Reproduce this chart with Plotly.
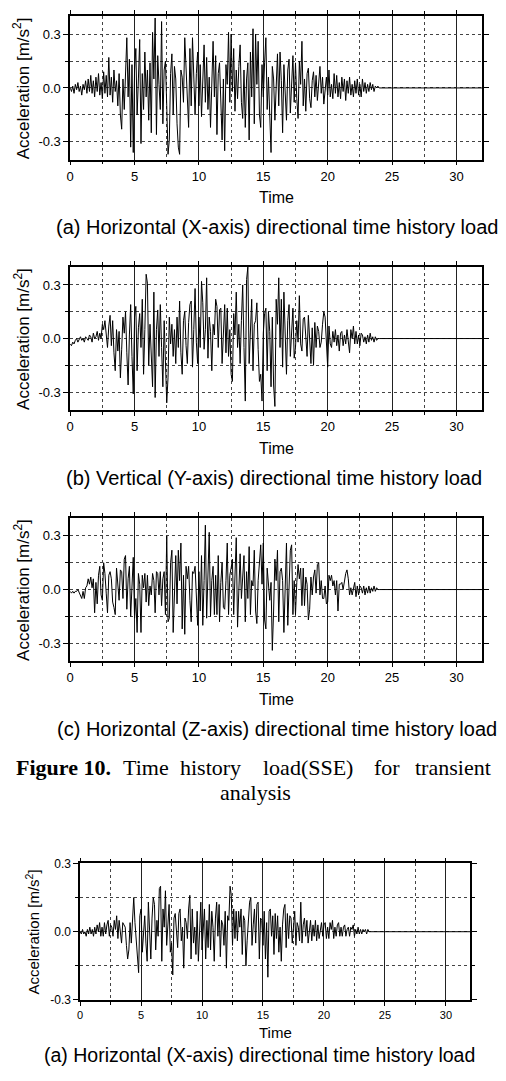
import plotly.graph_objects as go

# ---------------- data ----------------
DT = 0.1                      # sample step of the records [s]
END_TIME = 32.0               # records are zero after 24 s up to the end of the axis

ACC_X_SSE = [
    0.00, -0.02, 0.01, -0.03, 0.02, -0.01, 0.03, -0.02, 0.01, -0.04,
    0.02, -0.01, 0.04, -0.03, 0.05, -0.02, 0.07, -0.03, 0.04, -0.05,
    0.06, -0.02, 0.08, -0.04, 0.03, -0.06, 0.09, -0.03, 0.07, -0.05,
    0.17, -0.04, 0.06, -0.08, 0.10, -0.02, 0.04, -0.10, 0.08, -0.15,
    -0.23, 0.05, -0.12, 0.12, 0.28, -0.05, 0.16, -0.33, 0.13, -0.36,
    0.10, 0.22, -0.15, 0.05, 0.27, -0.31, 0.08, -0.12, 0.20, -0.05,
    0.10, -0.18, 0.14, -0.25, 0.31, 0.05, 0.39, -0.26, 0.18, 0.02,
    -0.12, 0.37, -0.20, 0.10, 0.15, -0.10, -0.37, -0.29, 0.08, 0.19,
    -0.15, 0.12, 0.05, -0.20, -0.33, -0.37, 0.10, 0.06, -0.08, 0.28,
    0.12, -0.05, -0.22, 0.22, -0.10, 0.28, 0.03, -0.15, 0.08, 0.20,
    -0.10, 0.13, -0.16, 0.05, 0.24, -0.08, 0.17, -0.12, 0.06, -0.22,
    0.10, 0.26, -0.05, 0.18, -0.26, 0.08, 0.14, -0.10, -0.29, 0.05,
    -0.35, 0.13, 0.02, 0.31, -0.08, 0.30, -0.02, 0.22, -0.13, 0.10,
    -0.06, 0.12, 0.24, -0.08, -0.17, 0.10, -0.22, 0.05, 0.14, -0.29,
    0.20, -0.05, 0.33, -0.20, 0.30, 0.02, 0.26, -0.15, -0.22, 0.13,
    -0.05, 0.14, 0.28, -0.12, 0.06, -0.15, -0.36, 0.12, 0.05, -0.18,
    0.08, 0.19, -0.10, 0.20, 0.04, -0.25, 0.13, -0.05, -0.18, 0.10,
    0.16, -0.14, 0.06, 0.18, -0.08, 0.14, -0.06, -0.17, 0.15, 0.02,
    0.26, -0.10, 0.05, -0.13, 0.08, 0.11, -0.06, -0.11, 0.04, 0.09,
    -0.05, 0.07, -0.07, 0.02, 0.12, -0.03, 0.06, -0.09, 0.01, 0.06,
    -0.04, 0.10, -0.05, 0.02, -0.06, 0.08, -0.03, 0.07, -0.05, 0.03,
    -0.06, 0.06, -0.02, 0.05, -0.07, 0.04, -0.03, 0.06, -0.04, 0.02,
    -0.05, 0.04, -0.03, 0.05, -0.04, 0.02, -0.05, 0.05, -0.02, 0.03,
    -0.03, 0.02, -0.02, 0.03, -0.01, 0.02, -0.02, 0.01, 0.00, 0.01,
    0.00,
]

ACC_Y_SSE = [
    -0.03, -0.04, -0.02, -0.03, -0.01, 0.00, -0.02, 0.00, 0.01, -0.01,
    0.00, -0.02, 0.01, 0.00, -0.01, 0.02, 0.01, -0.02, 0.03, 0.00,
    0.01, 0.04, -0.01, 0.03, 0.00, 0.08, 0.05, 0.10, 0.02, -0.05,
    0.07, 0.13, -0.04, 0.10, -0.08, -0.18, 0.05, -0.07, 0.04, -0.22,
    -0.06, 0.12, 0.03, 0.15, -0.08, -0.26, 0.02, 0.19, -0.10, -0.31,
    0.12, 0.18, -0.18, 0.06, 0.14, -0.05, 0.22, -0.20, 0.05, 0.36,
    0.31, -0.15, 0.08, -0.12, -0.27, 0.26, -0.33, 0.05, 0.16, -0.10,
    0.19, -0.05, -0.27, 0.10, -0.08, -0.36, -0.22, 0.12, -0.03, 0.08,
    -0.10, 0.05, -0.14, 0.12, -0.05, 0.21, -0.08, -0.20, 0.10, 0.15,
    -0.04, -0.14, 0.09, 0.19, 0.21, -0.16, 0.05, 0.28, -0.02, -0.14,
    0.12, -0.05, 0.32, 0.20, -0.06, 0.05, 0.34, -0.11, 0.12, 0.04,
    -0.18, 0.08, 0.02, 0.22, 0.18, -0.05, 0.16, 0.17, -0.14, 0.06,
    0.19, -0.08, 0.17, -0.10, 0.05, -0.20, -0.24, 0.14, 0.02, 0.26,
    -0.05, 0.08, -0.14, 0.10, 0.30, -0.05, -0.35, 0.33, 0.40, -0.14,
    0.05, 0.22, -0.18, 0.08, 0.10, 0.20, -0.06, -0.24, -0.20, -0.35,
    0.03, 0.14, 0.17, -0.18, 0.15, 0.04, -0.27, 0.12, -0.26, -0.38,
    0.22, 0.08, 0.34, -0.05, 0.22, -0.16, 0.26, 0.02, -0.20, 0.10,
    0.19, -0.10, 0.05, 0.17, -0.11, -0.05, 0.10, -0.02, 0.24, -0.03,
    -0.07, 0.11, 0.12, -0.03, -0.10, 0.13, -0.02, -0.14, 0.06, -0.15,
    0.09, -0.05, 0.07, 0.04, -0.05, -0.02, 0.08, 0.15, 0.12, -0.03,
    -0.16, 0.07, -0.03, -0.05, 0.04, -0.02, 0.05, -0.04, 0.02, -0.07,
    0.03, 0.04, -0.04, 0.02, -0.03, 0.05, -0.02, -0.08, 0.05, 0.00,
    0.07, -0.03, 0.04, -0.03, 0.02, -0.04, 0.03, 0.02, -0.02, 0.01,
    -0.03, 0.02, -0.02, 0.03, -0.01, 0.01, -0.02, 0.01, -0.01, 0.00,
    0.00,
]

ACC_Z_SSE = [
    -0.01, -0.02, -0.01, -0.02, -0.01, -0.01, 0.00, -0.02, -0.03, -0.05,
    -0.01, -0.05, 0.01, 0.02, 0.06, 0.03, 0.07, 0.01, 0.06, -0.13,
    0.04, -0.08, 0.08, 0.13, -0.03, -0.06, 0.15, 0.09, -0.02, -0.13,
    0.08, 0.10, 0.06, -0.07, -0.10, -0.14, 0.12, 0.00, -0.06, 0.11,
    0.10, -0.05, 0.17, 0.19, -0.11, 0.06, 0.13, -0.15, 0.02, 0.18,
    -0.16, -0.05, -0.24, 0.09, 0.03, -0.24, 0.08, 0.01, 0.09, -0.07,
    0.08, -0.09, 0.02, -0.03, 0.09, 0.05, -0.13, 0.10, 0.09, -0.03,
    0.10, -0.09, 0.06, 0.10, -0.14, 0.30, -0.18, -0.16, 0.15, 0.22,
    -0.24, -0.02, 0.19, -0.08, 0.22, 0.05, 0.26, -0.22, 0.08, -0.25,
    0.13, 0.06, 0.13, -0.06, -0.18, 0.10, 0.09, 0.13, -0.03, -0.20,
    0.10, -0.12, 0.19, -0.20, 0.05, 0.36, -0.16, 0.04, 0.32, -0.15,
    0.05, 0.13, -0.14, 0.08, -0.14, 0.19, -0.18, 0.04, 0.15, -0.10,
    -0.11, 0.05, 0.26, -0.14, 0.08, 0.12, 0.17, -0.14, 0.05, 0.29,
    -0.21, 0.02, 0.20, -0.05, 0.08, 0.19, -0.18, 0.10, -0.05, 0.24,
    -0.14, 0.05, 0.02, 0.22, -0.12, -0.19, 0.05, 0.19, 0.25, 0.03,
    0.26, -0.17, -0.22, 0.12, 0.05, -0.06, 0.04, -0.34, -0.12, 0.17,
    0.05, 0.22, -0.18, 0.10, 0.12, 0.05, -0.24, -0.03, 0.26, -0.20,
    0.08, 0.22, 0.25, -0.14, 0.05, -0.14, 0.04, 0.14, 0.06, 0.12,
    -0.09, 0.12, -0.09, 0.07, 0.03, -0.17, -0.11, 0.07, -0.03, 0.07,
    0.11, -0.02, 0.14, 0.15, -0.03, 0.05, -0.05, -0.05, 0.02, -0.08,
    -0.07, 0.08, 0.05, 0.08, 0.02, 0.05, -0.03, 0.05, -0.12, 0.03,
    0.03, 0.04, 0.00, 0.05, 0.09, 0.11, 0.06, -0.03, 0.01, -0.03,
    0.00, 0.04, -0.04, 0.02, -0.03, 0.02, 0.01, -0.02, 0.02, -0.03,
    0.01, -0.02, 0.02, -0.02, 0.01, -0.01, 0.02, -0.01, 0.01, 0.00,
    0.00,
]

ACC_X_OBE = [
    0.00, -0.01, 0.01, -0.01, 0.00, -0.02, 0.01, -0.01, 0.02, -0.01,
    0.01, -0.02, 0.02, -0.01, 0.03, 0.00, 0.04, -0.02, 0.02, -0.02,
    0.04, -0.01, 0.03, 0.05, -0.02, 0.03, 0.02, -0.02, 0.05, 0.01,
    0.07, -0.03, 0.05, 0.00, -0.05, 0.04, 0.03, 0.02, -0.06, -0.12,
    -0.08, 0.04, -0.05, 0.07, 0.15, 0.04, -0.05, -0.13, -0.18, 0.07,
    0.10, -0.09, 0.02, 0.07, -0.05, -0.13, 0.13, 0.01, -0.12, 0.06,
    0.15, 0.12, -0.08, 0.05, -0.02, 0.19, 0.20, -0.13, 0.10, 0.02,
    0.18, -0.06, 0.03, 0.12, -0.09, -0.05, -0.19, 0.06, 0.08, 0.01,
    -0.07, 0.08, 0.10, -0.04, 0.02, -0.16, 0.06, 0.04, -0.03, 0.10,
    0.16, -0.12, 0.10, -0.05, 0.02, -0.10, 0.09, -0.13, 0.04, 0.13,
    -0.08, 0.03, 0.10, -0.12, 0.05, -0.07, 0.12, -0.08, 0.09, 0.02,
    -0.13, 0.06, 0.13, -0.02, 0.12, -0.11, 0.05, 0.03, -0.06, 0.09,
    -0.16, 0.07, 0.05, 0.20, 0.16, -0.06, 0.10, -0.03, 0.09, -0.04,
    0.09, 0.02, 0.10, -0.10, 0.07, 0.05, -0.15, -0.04, 0.06, 0.13,
    0.15, -0.06, 0.03, 0.10, -0.05, 0.12, 0.13, -0.12, 0.06, 0.05,
    -0.06, 0.09, -0.12, 0.04, -0.20, 0.09, 0.10, -0.02, 0.07, -0.10,
    0.08, -0.03, 0.07, -0.09, 0.02, -0.13, 0.03, 0.10, 0.12, -0.07,
    0.08, -0.03, 0.07, 0.06, -0.05, 0.02, 0.09, -0.06, 0.04, 0.02,
    -0.04, 0.13, -0.05, 0.03, 0.06, -0.02, 0.05, -0.05, 0.02, 0.05,
    -0.04, 0.03, -0.02, 0.05, -0.04, 0.03, -0.03, 0.02, 0.04, -0.02,
    0.03, 0.04, -0.03, 0.02, -0.03, 0.04, 0.01, 0.05, -0.03, 0.02,
    -0.02, 0.03, 0.04, -0.02, 0.02, -0.02, 0.02, 0.03, -0.02, 0.01,
    0.02, -0.02, 0.02, 0.01, 0.03, -0.02, 0.01, -0.01, 0.02, -0.01,
    0.01, -0.01, 0.01, 0.00, 0.01, -0.01, 0.01, 0.00, 0.00, 0.00,
    0.00,
]

X_TICKS = [0, 5, 10, 15, 20, 25, 30]
X_TICK_TEXT = ["0", "5", "10", "15", "20", "25", "30"]
Y_TICKS = [-0.3, 0.0, 0.3]
Y_TICK_TEXT = ["-0.3", "0.0", "0.3"]

CAPTIONS = [
    "(a) Horizontal (X-axis) directional time history load",
    "(b) Vertical (Y-axis) directional time history load",
    "(c) Horizontal (Z-axis) directional time history load",
    "(a) Horizontal (X-axis) directional time history load",
]
FIG_CAPTION_WORDS = ["<b>Figure 10.</b>", "Time", "history", "load(SSE)", "for", "transient"]
FIG_CAPTION_LINE2 = "analysis"
Y_TITLE = "Acceleration [m/s<sup>2</sup>]"
X_TITLE = "Time"

# ---------------- figure ----------------
W, H = 506, 1081
SANS = "Liberation Sans, Arial, sans-serif"
SERIF = "Liberation Serif, Times New Roman, serif"


def py(px):
    return 1 - px / H


def px_x(px):
    return px / W


time = [round(i * DT, 1) for i in range(len(ACC_X_SSE))]

# panel geometry in pixels: left, right, top, bottom
panels = [
    dict(data=ACC_X_SSE, l=66.7, r=482.0, t=9.3, b=154.7, yr=0.4, tick=13, xtick=13, title=17,
         ytx=17.5, xt_dy=38.5, xt_fs=16, cap_dy=68.6, cap_x=275, cap_fs=20),
    dict(data=ACC_Y_SSE, l=66.7, r=482.0, t=263.5, b=408.3, yr=0.4, tick=13, xtick=13, title=17,
         ytx=17.5, xt_dy=38.5, xt_fs=16, cap_dy=68.6, cap_x=272, cap_fs=20),
    dict(data=ACC_Z_SSE, l=66.7, r=482.0, t=517.7, b=662.7, yr=0.4, tick=13, xtick=13, title=17,
         ytx=17.5, xt_dy=38.5, xt_fs=16, cap_dy=68.6, cap_x=275, cap_fs=20),
    dict(data=ACC_X_OBE, l=76.7, r=470.0, t=867.7, b=1006.0, yr=0.3, tick=12, xtick=11, title=15,
         ytx=29.0, xt_dy=33.0, xt_fs=15, cap_dy=55.7, cap_x=257.5, cap_fs=19.5),
]

fig = go.Figure()
annotations = []

for i, p in enumerate(panels):
    n = "" if i == 0 else str(i + 1)
    fig.add_trace(go.Scatter(
        x=time + [END_TIME], y=p["data"] + [0.0],
        mode="lines", line=dict(color="black", width=1.0),
        xaxis="x" + n, yaxis="y" + n, showlegend=False, hoverinfo="skip",
    ))
    xa = dict(
        domain=[px_x(p["l"]), px_x(p["r"])], range=[0, END_TIME], anchor="y" + n,
        tickmode="array", tickvals=X_TICKS, ticktext=X_TICK_TEXT,
        showline=True, linecolor="black", linewidth=1.5, mirror="allticks",
        ticks="outside", ticklen=4, tickwidth=1, tickcolor="black",
        showgrid=True, gridcolor="#222222", gridwidth=1, zeroline=False,
        minor=dict(dtick=2.5, tick0=0, showgrid=True, griddash="dot", gridcolor="#444444",
                   gridwidth=1, ticks="outside", ticklen=3, tickcolor="black"),
        tickfont=dict(family=SANS, size=p["xtick"], color="black"),
        fixedrange=True,
    )
    ya = dict(
        domain=[py(p["b"]), py(p["t"])], range=[-p["yr"], p["yr"]], anchor="x" + n,
        tickmode="array", tickvals=Y_TICKS, ticktext=Y_TICK_TEXT,
        showline=True, linecolor="black", linewidth=1.5, mirror="allticks",
        ticks="outside", ticklen=5, tickwidth=1, tickcolor="black",
        showgrid=True, griddash="dot", gridcolor="#444444", gridwidth=1, zeroline=False,
        minor=dict(dtick=0.15, tick0=0, showgrid=True, griddash="dot", gridcolor="#444444",
                   gridwidth=1, ticks="outside", ticklen=3, tickcolor="black"),
        tickfont=dict(family=SANS, size=p["tick"], color="black"),
        fixedrange=True,
    )
    fig.update_layout(**{"xaxis" + n: xa, "yaxis" + n: ya})

    annotations.append(dict(
        text=Y_TITLE, textangle=-90, x=px_x(p["ytx"]), y=py((p["t"] + p["b"]) / 2),
        xref="paper", yref="paper", xanchor="center", yanchor="middle", showarrow=False,
        font=dict(family=SANS, size=p["title"], color="black"),
    ))
    annotations.append(dict(
        text=X_TITLE, x=px_x((p["l"] + p["r"]) / 2),
        y=py(p["b"] + p["xt_dy"]), xref="paper", yref="paper",
        xanchor="center", yanchor="middle", showarrow=False,
        font=dict(family=SANS, size=p["xt_fs"], color="black"),
    ))
    annotations.append(dict(
        text=CAPTIONS[i], x=px_x(p["cap_x"]), y=py(p["b"] + p["cap_dy"]),
        xref="paper", yref="paper", xanchor="center", yanchor="middle", showarrow=False,
        font=dict(family=SANS, size=p["cap_fs"], color="black"),
    ))

# justified figure caption (word centres in px)
word_cx = [60, 143, 208.5, 306.5, 386, 453]
for wx, wtxt in zip(word_cx, FIG_CAPTION_WORDS):
    annotations.append(dict(
        text=wtxt, x=px_x(wx), y=py(770), xref="paper", yref="paper",
        xanchor="center", yanchor="middle", showarrow=False,
        font=dict(family=SERIF, size=22, color="black"),
    ))
annotations.append(dict(
    text=FIG_CAPTION_LINE2, x=px_x(253), y=py(796), xref="paper", yref="paper",
    xanchor="center", yanchor="middle", showarrow=False,
    font=dict(family=SERIF, size=22, color="black"),
))

fig.update_layout(
    width=W, height=H, margin=dict(l=0, r=0, t=0, b=0),
    paper_bgcolor="white", plot_bgcolor="white",
    annotations=annotations, showlegend=False,
)

fig.write_html("out.html")
